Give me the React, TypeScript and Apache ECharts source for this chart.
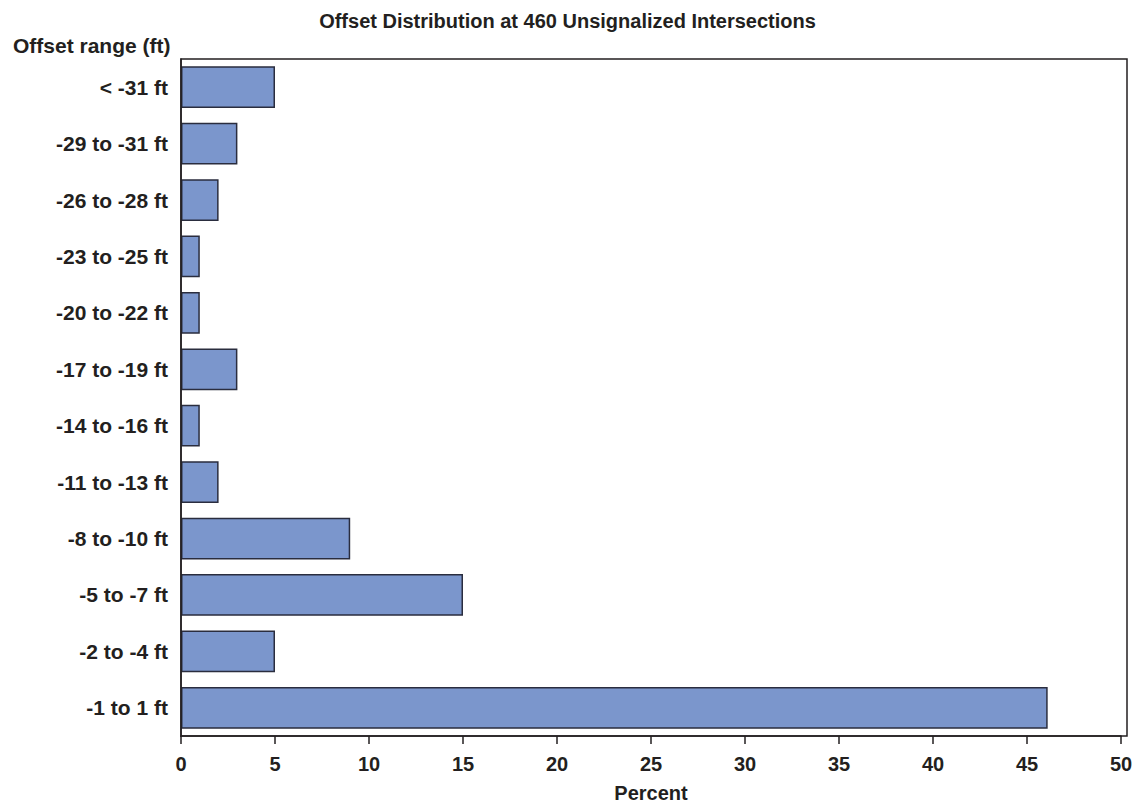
import React, { useEffect, useRef } from "react";
import * as echarts from "echarts";

const categories = [
  "< -31 ft",
  "-29 to -31 ft",
  "-26 to -28 ft",
  "-23 to -25 ft",
  "-20 to -22 ft",
  "-17 to -19 ft",
  "-14 to -16 ft",
  "-11 to -13 ft",
  "-8 to -10 ft",
  "-5 to -7 ft",
  "-2 to -4 ft",
  "-1 to 1 ft",
];
const percents = [5, 3, 2, 1, 1, 3, 1, 2, 9, 15, 5, 46.1];

const titleText = "Offset Distribution at 460 Unsignalized Intersections";
const yAxisTitle = "Offset range (ft)";
const xAxisTitle = "Percent";

const FONT = "'Liberation Sans', Arial, Helvetica, sans-serif";
const TEXT = "#231f20";

export default function App() {
  const ref = useRef<HTMLDivElement>(null);
  useEffect(() => {
    if (!ref.current) return;
    const chart = echarts.init(ref.current, undefined, { renderer: "svg" });
    chart.setOption({
      animation: false,
      backgroundColor: "#ffffff",
      textStyle: { fontFamily: FONT },
      title: [
        {
          text: titleText,
          left: "center",
          top: 6,
          textStyle: { fontFamily: FONT, fontSize: 20, fontWeight: "bold", color: TEXT },
        },
        {
          text: yAxisTitle,
          left: 8,
          top: 30,
          textStyle: { fontFamily: FONT, fontSize: 21, fontWeight: "bold", color: TEXT },
        },
      ],
      grid: {
        left: 181,
        right: 14,
        top: 59,
        bottom: 68,
        containLabel: false,
        outerBoundsMode: "none",
      },
      xAxis: {
        type: "value",
        min: 0,
        max: 50,
        interval: 5,
        name: xAxisTitle,
        nameLocation: "middle",
        nameGap: 47,
        nameTextStyle: {
          fontFamily: FONT,
          fontSize: 20,
          fontWeight: "bold",
          color: TEXT,
          verticalAlign: "top",
          lineHeight: 20,
        },
        axisLine: { show: true, lineStyle: { color: TEXT, width: 1.5 } },
        axisTick: { show: true, length: 8, inside: false, lineStyle: { color: TEXT, width: 1.5 } },
        axisLabel: { margin: 18, fontFamily: FONT, fontSize: 20, fontWeight: "bold", color: TEXT },
        splitLine: { show: false },
      },
      yAxis: {
        type: "category",
        data: categories,
        inverse: true,
        axisLine: { show: true, lineStyle: { color: TEXT, width: 1.5 } },
        axisTick: { show: false },
        axisLabel: { margin: 13, fontFamily: FONT, fontSize: 21, fontWeight: "bold", color: TEXT },
        splitLine: { show: false },
      },
      graphic: [
        {
          type: "rect",
          silent: true,
          z: 10,
          shape: { x: 181, y: 59, width: 946, height: 677 },
          style: { fill: "none", stroke: TEXT, lineWidth: 1.5 },
        },
      ],
      series: [
        {
          type: "bar",
          data: percents,
          barCategoryGap: "26%",
          itemStyle: { color: "#7b96cc", borderColor: "#2a2d3e", borderWidth: 1.5 },
        },
      ],
    });
    return () => chart.dispose();
  }, []);
  return (
    <div
      ref={ref}
      style={{ position: "fixed", left: 0, top: 0, width: 1135, height: 804 }}
    />
  );
}
